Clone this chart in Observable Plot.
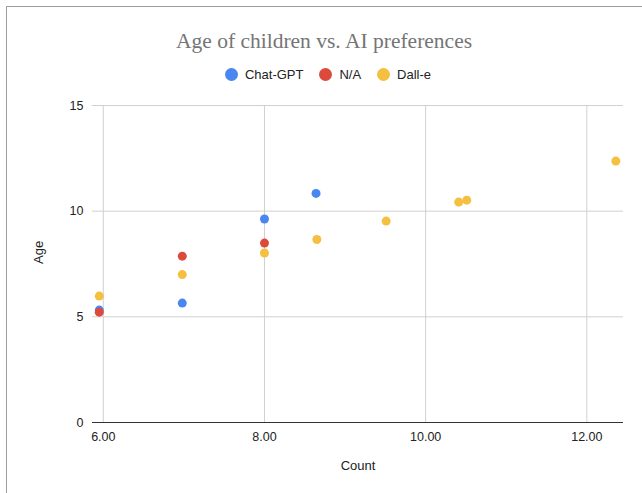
<!DOCTYPE html>
<html>
<head>
<meta charset="utf-8">
<script src="https://cdn.jsdelivr.net/npm/d3@7"></script>
<script src="https://cdn.jsdelivr.net/npm/@observablehq/plot@0.6"></script>
<style>
  html, body { margin: 0; padding: 0; background: #fff; }
  #wrap { position: relative; width: 642px; height: 493px; overflow: hidden; background: #fff; }
  #frame { position: absolute; left: 6px; top: 6px; width: 700px; height: 600px; border-left: 1.5px solid #9e9e9e; border-top: 1.5px solid #9e9e9e; box-sizing: border-box; pointer-events: none; }
  #header { position: relative; height: 90px; }
  #title { position: absolute; left: 0; width: 642px; top: 29px; text-align: center; font-family: "Liberation Serif", "DejaVu Serif", serif; font-size: 21.5px; color: #757575; padding-left: 6px; box-sizing: border-box; }
  #legend { position: absolute; left: 0; width: 642px; top: 67px; display: flex; justify-content: center; font-family: "Liberation Sans", Arial, sans-serif; font-size: 13px; color: #222; padding-left: 14px; box-sizing: border-box; }
  .item { display: flex; align-items: center; margin: 0 8px; }
  .sw { width: 13px; height: 13px; border-radius: 50%; display: inline-block; margin-right: 7px; }
  #chart { position: relative; }
</style>
</head>
<body>
<div id="wrap">
  <div id="header">
    <div id="title"></div>
    <div id="legend"></div>
  </div>
  <div id="chart"></div>
  <div id="frame"></div>
</div>
<script>
const title = "Age of children vs. AI preferences";
const seriesNames = ["Chat-GPT", "N/A", "Dall-e"];
const seriesColors = ["#4A86EF", "#DB4A3A", "#F5BF3F"];

const chatGptCount = [5.95, 6.98, 8.0, 8.64];
const chatGptAge   = [5.32, 5.65, 9.63, 10.84];
const naCount      = [5.95, 6.98, 8.0];
const naAge        = [5.22, 7.87, 8.49];
const dalleCount   = [5.95, 6.98, 8.0, 8.65, 9.51, 10.41, 10.51, 12.36];
const dalleAge     = [5.98, 7.0, 8.02, 8.66, 9.53, 10.43, 10.52, 12.37];

const xTicks = [6, 8, 10, 12];
const yTicks = [0, 5, 10, 15];
const xLabel = "Count";
const yLabel = "Age";

const data = [
  ...chatGptCount.map((c, i) => ({series: "Chat-GPT", count: c, age: chatGptAge[i]})),
  ...naCount.map((c, i) => ({series: "N/A", count: c, age: naAge[i]})),
  ...dalleCount.map((c, i) => ({series: "Dall-e", count: c, age: dalleAge[i]}))
];

document.getElementById("title").textContent = title;
const legend = document.getElementById("legend");
seriesNames.forEach((s, i) => {
  const it = document.createElement("span");
  it.className = "item";
  const sw = document.createElement("span");
  sw.className = "sw";
  sw.style.background = seriesColors[i];
  it.appendChild(sw);
  it.appendChild(document.createTextNode(s));
  legend.appendChild(it);
});

const chart = Plot.plot({
  width: 642,
  height: 403,
  marginLeft: 92,
  marginRight: 19,
  marginTop: 15,
  marginBottom: 71,
  style: { fontFamily: "'Liberation Sans', Arial, sans-serif", fontSize: "12.5px", color: "#222", background: "transparent" },
  x: { domain: [5.866, 12.455], ticks: xTicks, tickFormat: d => d.toFixed(2), label: null },
  y: { domain: [0, 15], ticks: yTicks, label: null },
  color: { domain: seriesNames, range: seriesColors },
  marks: [
    Plot.gridX(xTicks, { stroke: "#d0d0d0", strokeOpacity: 1, strokeWidth: 1 }),
    Plot.gridY(yTicks.filter(d => d > 0), { stroke: "#d0d0d0", strokeOpacity: 1, strokeWidth: 1 }),
    Plot.axisX({ ticks: xTicks, tickFormat: d => d.toFixed(2), tickSize: 0, tickPadding: 10, label: null }),
    Plot.axisY({ ticks: yTicks, tickSize: 0, tickPadding: 9, label: null }),
    Plot.ruleY([0], { stroke: "#333", strokeWidth: 1 }),
    Plot.dot(data, { x: "count", y: "age", fill: "series", r: 4.5, stroke: null }),
    Plot.text([xLabel], { frameAnchor: "bottom", dy: 47, text: d => d, fontSize: 13, fill: "#222" }),
    Plot.text([yLabel], { frameAnchor: "left", dx: -54, rotate: -90, text: d => d, fontSize: 13, fill: "#222" })
  ]
});
document.getElementById("chart").appendChild(chart);
</script>
</body>
</html>
